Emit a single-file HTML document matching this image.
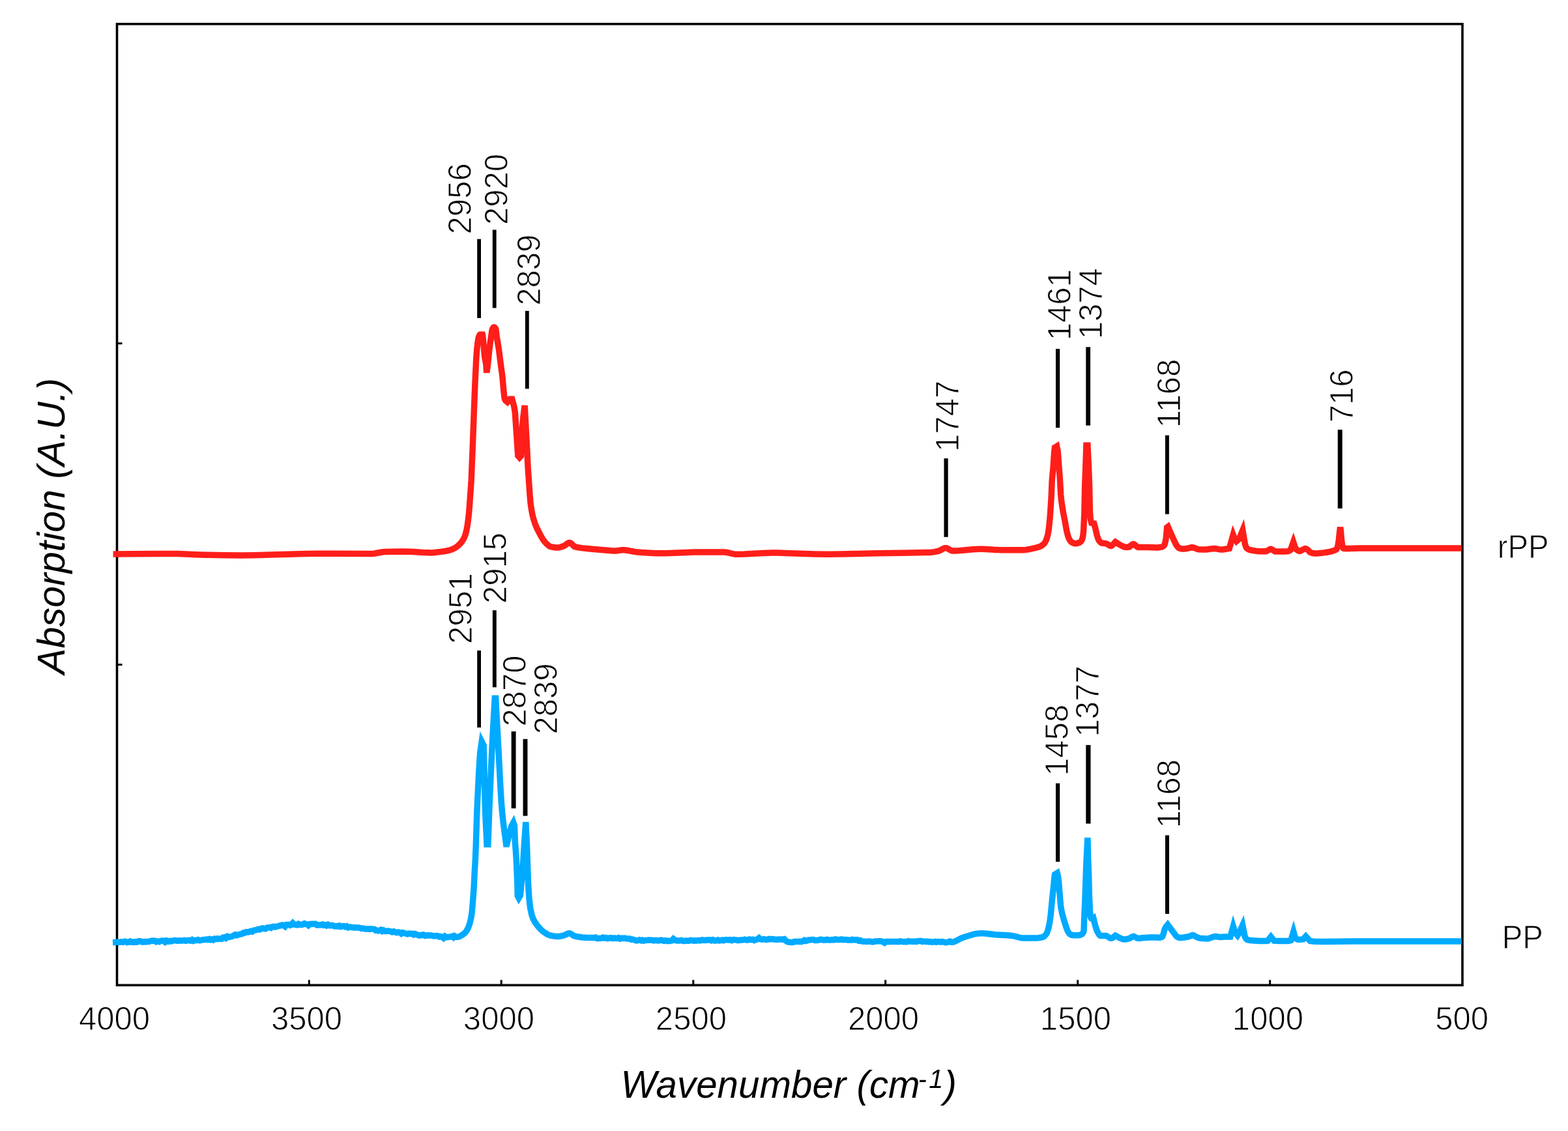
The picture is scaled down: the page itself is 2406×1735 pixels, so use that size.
<!DOCTYPE html>
<html lang="en">
<head>
<meta charset="utf-8">
<title>FTIR absorption spectra of PP and rPP</title>
<style>
html,body{margin:0;padding:0;background:#fff;}
body{width:2406px;height:1735px;overflow:hidden;}
svg{display:block;}
text{font-family:"Liberation Sans",sans-serif;fill:#000;}
.tk{font-size:50.3px;stroke:#fff;stroke-width:1.00px;stroke-linejoin:round;}
.ax{font-size:59.2px;font-style:italic;}
</style>
</head>
<body>
<svg width="2406" height="1735" viewBox="0 0 2406 1735">
<rect x="0" y="0" width="2406" height="1735" fill="#ffffff"/>
<g stroke="#000" stroke-width="3" fill="none">
<line x1="474.3" y1="1511.3" x2="474.3" y2="1503.3"/>
<line x1="769.2" y1="1511.3" x2="769.2" y2="1503.3"/>
<line x1="1063.8" y1="1511.3" x2="1063.8" y2="1503.3"/>
<line x1="1358.7" y1="1511.3" x2="1358.7" y2="1503.3"/>
<line x1="1653.7" y1="1511.3" x2="1653.7" y2="1503.3"/>
<line x1="1948.7" y1="1511.3" x2="1948.7" y2="1503.3"/>
<line x1="179.5" y1="526.8" x2="187.5" y2="526.8"/>
<line x1="179.5" y1="1019.6" x2="187.5" y2="1019.6"/>
</g>
<rect x="179.5" y="36.8" width="2064.5" height="1474.5" fill="none" stroke="#000" stroke-width="3.6"/>
<path d="M173.6,849.9 241.7,849.6 272.8,849.6 284.1,849.9 306.9,850.9 318.2,851.3 346.2,851.7 370.5,851.9 389.4,851.7 431.9,850.4 469.6,849.6 488.5,849.3 512.2,849.2 568.9,849.6 572.0,849.4 575.2,849.0 584.6,847.3 587.8,846.8 590.9,846.6 602.7,846.3 616.9,846.1 628.1,846.2 634.3,846.4 648.8,847.4 657.6,847.8 661.1,847.9 664.5,847.7 669.0,847.3 676.9,846.4 681.4,845.8 684.8,845.2 689.3,844.2 691.3,843.6 693.3,842.9 696.2,841.5 699.1,840.0 700.9,838.7 702.8,837.2 705.5,834.6 707.5,832.4 708.8,830.8 710.1,828.8 711.8,825.8 713.0,823.1 713.8,820.9 715.0,817.0 715.7,814.3 717.4,805.1 718.7,795.0 719.4,788.8 720.1,780.9 722.5,747.3 723.2,736.3 725.1,690.3 728.9,588.8 730.6,553.4 731.3,542.3 732.1,532.8 732.8,526.9 733.8,520.3 734.2,518.4 734.6,517.0 735.7,514.4 736.2,513.6 736.7,513.3 740.4,513.3 740.6,514.0 741.1,518.2 743.5,545.5 744.2,550.4 745.1,554.9 745.7,558.4 746.0,560.8 746.4,567.5 747.4,567.5 748.6,558.7 750.4,540.5 751.3,532.6 752.4,524.4 755.0,506.8 755.6,504.7 756.8,502.8 757.4,502.2 758.0,502.0 758.8,502.3 759.7,503.0 760.5,504.1 760.8,505.2 761.0,506.2 762.3,517.0 764.7,531.3 765.6,537.1 768.5,560.2 770.4,573.7 771.2,581.0 772.4,594.9 773.2,602.9 774.1,610.4 774.4,611.9 775.2,613.5 775.8,614.4 776.5,615.1 778.5,616.8 782.3,612.3 785.8,612.3 788.3,621.6 788.9,624.2 789.8,629.3 790.4,633.8 791.0,642.6 794.8,699.0 797.2,701.8 799.4,699.3 800.3,676.5 801.4,655.7 802.5,643.3 805.1,622.1 808.2,678.5 810.1,717.5 813.1,760.5 813.9,770.0 814.6,775.9 815.9,783.9 817.1,790.3 818.4,795.3 820.0,800.4 821.2,804.0 823.1,808.6 825.6,813.8 830.0,822.2 832.5,826.6 834.4,829.4 836.3,831.7 839.8,835.3 841.6,836.8 843.3,838.0 844.2,838.4 845.1,838.7 847.5,839.2 851.0,839.8 853.3,840.0 855.7,840.1 857.9,839.9 860.2,839.3 864.6,837.8 865.6,837.3 866.7,836.7 870.8,833.6 871.8,833.0 872.9,832.6 873.9,832.5 874.8,832.7 875.7,833.2 876.7,833.9 880.4,837.6 881.3,838.3 882.2,838.7 886.0,839.6 892.3,840.6 905.5,842.0 937.6,844.7 941.4,844.9 945.0,844.9 947.3,844.7 954.0,843.8 957.5,843.7 959.8,843.9 962.2,844.3 973.5,846.4 976.5,846.8 985.0,847.5 993.4,848.0 1001.9,848.4 1010.4,848.7 1019.8,848.7 1027.4,848.5 1053.9,847.4 1065.2,847.1 1111.4,847.1 1114.1,847.3 1116.7,847.7 1123.4,849.4 1126.0,849.9 1128.7,850.3 1130.0,850.3 1142.4,850.0 1171.4,848.5 1183.9,848.1 1193.7,848.1 1205.0,848.4 1250.5,850.0 1267.5,850.3 1290.2,850.1 1346.8,848.7 1397.8,848.1 1420.5,847.6 1426.2,847.4 1429.5,847.2 1433.9,846.6 1439.4,845.5 1441.6,844.8 1448.1,841.4 1449.1,841.0 1450.2,840.8 1451.3,840.7 1452.4,840.8 1453.4,841.1 1454.5,841.6 1458.7,844.1 1459.8,844.6 1460.8,844.9 1461.9,845.0 1465.0,845.0 1471.3,844.7 1493.1,842.8 1502.5,842.3 1507.7,842.3 1512.0,842.5 1526.8,843.4 1531.1,843.6 1535.3,843.7 1571.1,843.7 1574.5,843.4 1578.0,842.8 1589.3,840.3 1592.8,839.4 1596.2,838.2 1598.0,837.3 1598.9,836.7 1600.7,835.3 1601.6,834.4 1602.5,833.4 1603.5,832.0 1604.5,830.2 1605.5,827.9 1606.5,825.1 1607.2,822.7 1608.4,817.3 1609.4,810.8 1610.1,804.6 1611.1,793.7 1612.0,781.1 1613.0,764.9 1613.4,757.4 1614.0,741.7 1614.2,737.4 1614.8,730.6 1616.0,718.0 1617.7,693.2 1618.4,686.6 1621.6,684.6 1622.8,690.5 1623.2,693.0 1623.6,697.6 1624.9,716.1 1626.2,731.5 1627.7,758.6 1628.5,766.8 1629.4,773.8 1631.5,786.3 1634.1,799.7 1636.2,811.5 1637.7,818.2 1638.9,822.7 1640.3,826.2 1642.1,829.5 1643.2,830.9 1643.8,831.4 1645.9,832.6 1648.1,833.5 1649.1,833.7 1650.2,833.8 1651.2,833.7 1653.3,833.3 1656.5,832.2 1657.8,831.3 1658.5,830.7 1659.2,829.8 1660.5,827.5 1661.0,825.8 1661.8,821.7 1662.3,817.3 1662.6,814.2 1662.8,810.2 1663.8,788.1 1664.0,778.0 1664.7,744.4 1665.8,715.6 1666.9,683.3 1668.9,683.3 1670.0,705.8 1671.2,734.0 1671.7,749.5 1672.4,783.8 1672.8,790.1 1673.2,795.0 1673.8,798.4 1674.8,802.1 1678.7,802.9 1681.1,811.6 1683.2,821.0 1684.3,824.4 1685.5,827.6 1686.3,829.2 1687.5,830.7 1688.3,831.5 1689.0,832.2 1689.8,832.7 1690.6,833.0 1692.7,833.3 1695.9,833.6 1697.0,833.8 1698.0,834.1 1699.0,834.6 1702.9,836.9 1703.9,837.3 1704.9,837.4 1705.7,837.2 1706.5,836.7 1707.3,836.0 1710.6,832.1 1711.4,831.3 1716.3,834.5 1718.2,835.7 1723.6,838.3 1725.7,839.1 1726.8,839.3 1729.0,839.4 1732.4,839.1 1733.3,838.7 1735.1,837.0 1737.0,835.6 1738.0,834.9 1739.0,834.6 1740.0,834.9 1742.8,837.0 1744.5,838.6 1745.4,839.2 1746.2,839.4 1760.5,839.4 1775.2,839.9 1778.3,839.7 1782.4,839.1 1783.4,838.8 1784.3,838.3 1785.3,837.6 1786.3,836.6 1787.0,835.4 1787.6,833.3 1788.6,829.0 1789.2,825.1 1789.9,818.8 1790.6,809.2 1792.2,808.0 1799.0,823.6 1803.0,832.2 1804.6,835.4 1805.7,837.1 1807.7,839.6 1808.3,840.2 1809.0,840.6 1811.0,841.4 1812.9,841.9 1813.9,842.0 1814.9,842.1 1817.1,842.0 1820.5,841.5 1825.0,840.6 1828.2,839.8 1829.2,839.7 1830.3,839.8 1831.3,840.1 1834.5,841.2 1836.6,842.1 1837.7,842.5 1838.7,842.7 1844.5,842.9 1850.4,843.0 1852.7,842.8 1859.7,841.7 1863.2,841.5 1865.5,841.7 1871.2,842.9 1873.5,843.1 1876.7,842.9 1886.3,841.3 1892.2,820.5 1894.7,827.0 1897.3,830.4 1901.3,827.0 1906.8,813.5 1910.4,834.5 1912.2,839.7 1912.6,840.3 1913.4,841.2 1915.1,842.4 1916.8,843.2 1919.0,843.9 1921.3,844.3 1928.0,845.4 1931.4,845.7 1942.5,845.7 1943.4,845.5 1944.3,845.1 1948.9,842.4 1949.8,842.2 1950.7,842.4 1951.7,842.9 1956.2,845.8 1957.1,846.0 1971.1,846.0 1975.4,845.7 1976.5,845.6 1977.4,845.3 1980.3,843.5 1984.6,831.4 1988.1,842.0 1992.1,844.9 1993.1,845.3 1994.1,845.5 1995.1,845.3 1996.1,844.9 1998.0,843.7 2001.0,842.2 2001.9,841.8 2002.9,841.6 2003.9,841.8 2004.8,842.3 2006.8,843.6 2007.6,844.3 2010.0,847.0 2010.8,847.5 2014.2,848.5 2016.4,848.9 2017.6,849.0 2019.8,849.0 2023.2,848.8 2031.2,847.9 2035.8,847.2 2039.3,846.6 2042.7,845.9 2044.8,845.3 2048.0,844.2 2048.9,843.8 2049.9,843.3 2050.8,842.5 2051.2,842.0 2051.9,840.3 2052.8,837.2 2053.6,833.2 2054.3,828.4 2055.8,814.0 2056.6,808.8 2057.3,814.0 2058.4,827.4 2059.1,833.3 2059.6,836.6 2059.9,838.0 2060.3,839.2 2060.7,840.3 2061.1,841.0 2061.5,841.3 2062.6,841.5 2064.8,841.6 2068.1,841.6 2086.3,840.9 2242.6,841.1" fill="none" stroke="#ff1e19" stroke-width="9.5" stroke-linejoin="miter" stroke-miterlimit="4" stroke-linecap="butt"/>
<path d="M173.0,1445.7 176.0,1445.6 178.3,1445.3 180.4,1445.1 182.2,1445.4 184.0,1445.3 185.9,1444.8 188.5,1445.4 191.1,1444.3 193.1,1444.4 195.2,1445.7 197.4,1445.3 199.7,1444.1 201.6,1445.2 203.7,1445.0 205.7,1445.4 207.7,1444.9 210.2,1445.1 212.8,1443.8 215.2,1443.8 217.0,1444.8 219.3,1445.2 221.7,1444.6 223.8,1445.0 226.0,1444.6 228.4,1444.5 230.9,1443.7 233.2,1443.1 235.1,1443.3 237.6,1443.3 239.7,1444.7 241.8,1444.0 244.3,1444.6 246.4,1443.5 249.0,1443.0 251.0,1443.2 253.3,1445.1 255.6,1443.2 258.1,1444.4 260.5,1443.4 263.1,1443.8 265.2,1443.1 267.3,1442.7 269.5,1442.5 271.3,1443.3 273.9,1443.3 275.9,1442.8 278.5,1443.2 280.3,1442.9 282.5,1442.5 284.9,1443.3 287.3,1442.8 289.9,1442.4 292.5,1443.1 294.8,1441.7 297.0,1443.3 299.0,1442.5 301.3,1442.5 303.7,1441.6 305.8,1442.7 308.0,1442.5 310.5,1441.9 312.8,1441.6 315.2,1441.5 317.0,1440.9 319.0,1441.6 321.3,1440.5 323.4,1441.7 325.3,1441.0 327.2,1441.9 329.5,1440.1 331.9,1440.6 333.7,1439.8 335.5,1440.4 337.9,1440.1 340.0,1440.3 342.3,1438.1 344.7,1437.7 346.6,1439.1 349.1,1436.6 351.3,1437.5 353.5,1437.1 356.0,1436.6 358.4,1435.2 361.0,1433.8 363.2,1434.8 365.5,1434.0 367.4,1433.3 369.2,1433.0 371.3,1432.6 373.2,1431.1 375.0,1431.2 377.6,1429.8 380.2,1430.2 382.2,1429.5 384.4,1428.5 386.9,1429.2 389.5,1427.1 391.6,1427.0 393.9,1426.5 396.0,1425.4 398.5,1425.9 400.5,1424.5 402.9,1423.9 404.9,1424.7 407.2,1424.9 409.4,1423.3 411.4,1422.9 413.8,1422.6 415.8,1423.4 418.4,1421.5 420.2,1421.3 422.2,1422.0 424.7,1421.4 426.8,1420.8 429.0,1420.2 431.4,1419.6 433.4,1419.0 435.4,1419.9 437.4,1421.3 439.4,1418.6 441.4,1418.4 443.2,1418.5 445.2,1419.4 447.4,1418.1 449.2,1416.2 451.2,1418.3 453.5,1418.6 456.1,1419.0 458.0,1417.4 460.5,1418.3 463.2,1418.7 464.9,1417.9 467.1,1416.7 469.2,1417.6 471.5,1417.9 473.4,1419.6 476.0,1417.6 478.6,1417.2 480.4,1417.4 482.6,1417.2 484.3,1417.4 486.5,1419.1 488.3,1419.0 490.2,1419.0 492.5,1418.9 494.7,1418.1 496.5,1419.3 498.8,1418.7 501.0,1419.9 503.2,1418.5 505.0,1419.7 507.1,1419.5 508.9,1419.8 510.9,1419.8 513.5,1420.9 515.7,1420.8 518.2,1421.2 520.6,1420.2 522.7,1421.6 525.3,1420.7 527.6,1420.7 529.7,1421.8 532.0,1421.0 534.2,1422.9 536.1,1422.2 538.1,1422.3 540.8,1422.7 542.6,1422.8 544.4,1423.1 547.1,1423.1 549.6,1422.8 552.1,1423.4 554.4,1424.4 556.2,1424.0 558.7,1424.4 561.3,1425.2 563.7,1425.0 565.6,1425.0 567.7,1425.4 569.6,1424.8 571.6,1425.1 574.1,1425.4 576.5,1427.3 578.3,1427.1 580.2,1427.9 582.3,1427.7 584.4,1426.5 586.5,1428.4 588.5,1427.1 590.6,1428.4 593.1,1428.4 595.3,1428.0 597.4,1428.4 599.7,1429.0 601.9,1429.8 604.2,1428.9 606.7,1430.1 608.7,1430.7 611.0,1430.0 613.2,1430.4 615.7,1432.2 618.1,1430.7 620.5,1431.6 622.6,1432.2 625.1,1432.8 627.6,1432.1 629.7,1432.2 632.4,1432.2 634.8,1433.8 637.0,1432.6 639.6,1433.8 641.7,1434.5 643.6,1435.1 646.1,1434.8 648.6,1433.9 650.4,1434.1 652.2,1435.5 654.5,1435.3 656.9,1434.7 659.5,1435.1 662.0,1435.0 664.6,1435.8 667.1,1435.9 669.4,1435.6 671.7,1435.7 674.2,1437.0 676.2,1436.7 678.4,1437.3 680.5,1439.0 682.7,1436.5 684.7,1437.8 686.7,1437.7 689.3,1437.2 691.2,1437.0 693.8,1436.4 695.8,1437.9 697.6,1436.0 700.1,1437.4 702.7,1437.2 704.7,1436.8 706.5,1435.8 708.5,1434.6 710.3,1433.5 712.8,1431.7 714.3,1430.0 715.8,1428.0 716.8,1426.3 717.9,1424.3 718.9,1422.0 719.7,1419.9 720.7,1416.9 722.5,1409.5 723.5,1404.2 724.4,1396.8 725.8,1379.7 727.0,1363.1 727.5,1353.7 728.2,1338.2 729.3,1320.1 730.2,1298.5 731.9,1244.9 732.8,1224.6 734.6,1188.3 736.6,1155.8 739.2,1137.6 742.2,1143.6 743.2,1191.1 744.3,1234.3 745.2,1258.2 747.0,1295.3 748.9,1295.3 750.9,1240.0 753.5,1179.9 755.8,1132.1 759.2,1071.3 760.6,1071.3 765.3,1156.7 767.8,1206.0 769.3,1230.5 770.5,1245.2 771.9,1258.7 772.8,1266.5 776.6,1294.9 777.7,1294.9 784.6,1267.8 787.8,1261.9 789.4,1266.4 790.4,1291.5 792.1,1315.9 793.0,1335.0 793.9,1357.4 794.3,1374.5 796.0,1377.6 798.4,1373.5 801.0,1345.6 802.4,1328.0 804.8,1289.0 806.8,1261.0 808.6,1299.0 810.2,1347.7 810.5,1354.6 811.0,1364.1 812.0,1378.2 813.0,1388.3 814.0,1394.8 814.7,1398.0 815.6,1402.0 816.5,1405.3 817.8,1408.7 819.0,1411.3 820.8,1414.6 823.3,1418.1 826.5,1422.1 828.9,1424.8 831.4,1427.3 833.8,1429.3 836.7,1431.3 839.9,1433.2 842.0,1434.2 844.1,1434.9 845.1,1435.2 848.6,1435.9 852.2,1436.4 854.5,1436.6 856.8,1436.6 859.0,1436.3 862.4,1435.7 864.6,1435.2 865.7,1434.9 871.2,1432.2 872.3,1431.8 873.4,1431.7 874.4,1431.8 875.4,1432.2 876.3,1432.7 880.2,1435.3 881.2,1435.8 882.2,1436.1 888.5,1437.3 893.5,1438.0 898.5,1438.3 900.0,1438.4 902.1,1438.4 904.8,1438.5 907.2,1438.5 909.3,1438.5 911.3,1438.6 913.9,1438.1 915.9,1439.4 918.5,1439.4 920.7,1439.5 922.9,1439.2 925.1,1438.2 927.9,1439.1 929.8,1438.6 932.6,1439.7 934.8,1439.0 937.6,1438.7 940.3,1439.6 942.8,1439.0 945.0,1439.6 947.1,1439.6 949.1,1438.7 951.3,1440.0 954.2,1439.1 956.2,1439.5 958.6,1439.1 961.1,1439.8 963.8,1440.1 966.6,1440.1 968.8,1441.3 971.0,1441.1 973.8,1442.1 976.1,1443.0 978.2,1442.8 981.1,1441.8 983.8,1442.9 985.7,1442.2 987.8,1443.2 990.6,1442.4 993.0,1442.3 995.8,1442.1 998.3,1442.3 1000.4,1442.3 1002.9,1442.9 1004.8,1442.5 1006.9,1442.5 1009.6,1442.9 1011.6,1442.7 1014.2,1442.2 1016.7,1442.7 1019.0,1443.5 1021.4,1442.7 1024.2,1443.6 1026.3,1443.2 1028.2,1443.4 1030.9,1442.8 1033.3,1440.3 1036.1,1442.3 1038.3,1442.9 1040.5,1442.9 1042.6,1442.9 1045.4,1442.4 1048.2,1443.5 1050.2,1443.5 1053.0,1443.0 1055.1,1443.2 1057.4,1443.3 1059.5,1442.4 1061.9,1442.6 1064.1,1443.1 1066.0,1442.8 1068.0,1443.2 1070.5,1442.7 1072.7,1442.5 1075.0,1442.9 1077.3,1441.9 1079.7,1442.2 1082.4,1442.5 1084.8,1442.0 1087.1,1441.9 1089.5,1441.8 1091.5,1442.8 1093.9,1441.8 1096.2,1443.1 1099.0,1443.1 1101.7,1441.9 1104.1,1443.0 1106.1,1442.7 1108.1,1442.1 1110.2,1442.8 1112.9,1441.8 1115.7,1441.8 1118.1,1441.9 1120.2,1441.7 1122.8,1442.7 1125.4,1441.5 1128.0,1441.8 1130.4,1442.1 1132.4,1442.6 1134.7,1442.3 1137.6,1442.0 1140.3,1441.8 1142.9,1441.2 1145.1,1442.0 1147.5,1442.0 1149.5,1441.0 1152.0,1441.6 1154.8,1441.1 1157.3,1442.5 1159.7,1441.6 1161.9,1441.0 1164.7,1438.8 1167.0,1440.8 1169.6,1441.1 1172.4,1440.7 1175.2,1441.4 1177.7,1441.3 1179.8,1440.5 1181.7,1440.8 1184.5,1440.6 1187.1,1440.7 1189.5,1441.3 1191.8,1441.3 1193.8,1441.3 1196.4,1441.0 1198.7,1441.0 1200.7,1441.2 1203.5,1440.7 1205.6,1443.0 1208.4,1444.7 1210.9,1445.2 1213.7,1445.6 1216.5,1445.5 1219.0,1444.5 1221.7,1444.6 1224.5,1444.4 1227.0,1444.3 1229.8,1444.6 1232.2,1443.4 1234.1,1442.4 1236.3,1443.4 1238.6,1442.9 1240.7,1442.0 1243.2,1442.0 1245.8,1441.6 1248.3,1441.5 1250.3,1442.6 1252.4,1442.6 1255.0,1442.4 1257.6,1441.6 1259.7,1441.1 1262.5,1442.0 1265.1,1441.8 1267.2,1442.0 1269.4,1441.3 1271.6,1442.1 1274.3,1442.1 1276.8,1441.5 1279.4,1441.9 1281.8,1440.9 1283.8,1441.6 1286.5,1441.6 1288.8,1441.5 1291.5,1440.9 1293.5,1441.8 1296.3,1441.6 1298.7,1441.6 1301.5,1442.1 1303.5,1442.1 1305.9,1442.2 1307.9,1441.3 1310.8,1442.0 1313.1,1441.7 1315.3,1441.7 1317.4,1443.1 1320.2,1442.6 1322.8,1444.0 1325.3,1444.2 1327.6,1444.3 1330.0,1444.5 1332.1,1444.0 1334.7,1444.2 1337.4,1444.7 1340.0,1444.9 1342.5,1444.0 1345.3,1443.9 1348.2,1443.7 1350.3,1443.7 1352.5,1443.9 1354.5,1444.8 1357.3,1446.3 1359.7,1444.4 1361.7,1444.4 1364.4,1444.8 1366.8,1444.6 1369.0,1444.5 1371.7,1444.5 1374.2,1444.4 1376.4,1444.4 1378.8,1444.6 1381.3,1443.9 1383.6,1444.4 1386.2,1444.8 1388.8,1444.6 1391.2,1444.9 1393.6,1443.8 1396.4,1444.3 1398.9,1444.3 1401.3,1444.4 1403.7,1444.1 1405.8,1444.5 1408.5,1443.7 1410.8,1443.6 1413.1,1443.6 1415.4,1444.6 1417.6,1444.0 1420.4,1444.4 1423.1,1444.3 1425.1,1444.9 1427.6,1444.5 1429.8,1445.2 1432.3,1445.1 1434.7,1444.4 1436.7,1445.2 1439.5,1444.5 1441.6,1444.7 1443.5,1445.2 1445.7,1444.7 1448.0,1445.2 1450.3,1445.7 1452.3,1445.7 1454.9,1445.0 1457.5,1444.2 1459.6,1445.3 1461.8,1445.2 1462.1,1445.2 1465.0,1444.3 1467.8,1443.0 1474.9,1439.3 1477.7,1438.1 1488.6,1434.7 1494.2,1433.2 1498.0,1432.4 1501.8,1431.9 1505.6,1431.7 1508.6,1431.8 1511.6,1432.0 1526.5,1433.7 1545.4,1434.8 1552.9,1435.4 1556.6,1436.1 1565.1,1438.4 1567.6,1438.8 1568.8,1439.0 1589.8,1439.0 1593.3,1438.8 1596.7,1438.3 1600.2,1437.4 1601.0,1437.1 1601.9,1436.6 1603.6,1435.0 1605.3,1433.0 1605.7,1432.4 1606.5,1430.8 1607.7,1427.5 1609.1,1422.7 1609.7,1420.0 1610.6,1415.5 1611.3,1410.7 1612.0,1405.5 1613.1,1394.7 1614.6,1378.8 1616.2,1364.0 1617.6,1348.4 1618.5,1341.5 1622.2,1339.2 1623.6,1345.0 1624.3,1350.5 1625.0,1358.2 1627.4,1387.5 1627.8,1390.8 1628.4,1394.9 1629.7,1401.0 1632.5,1411.1 1636.1,1422.7 1637.5,1426.5 1639.1,1429.8 1639.6,1430.6 1640.9,1432.2 1641.5,1432.8 1642.2,1433.3 1643.3,1433.9 1644.4,1434.4 1645.5,1434.6 1648.4,1434.8 1650.4,1434.8 1654.5,1434.7 1656.5,1434.5 1658.6,1433.9 1659.4,1433.5 1660.1,1433.0 1661.4,1431.7 1662.0,1430.9 1662.7,1429.2 1663.1,1426.8 1663.6,1410.1 1664.8,1383.8 1666.7,1328.1 1667.4,1312.8 1668.9,1285.1 1669.4,1309.7 1670.6,1341.5 1671.3,1371.5 1672.0,1387.9 1672.5,1397.1 1672.9,1402.0 1673.2,1404.5 1673.7,1407.1 1674.2,1408.6 1674.8,1409.3 1675.4,1409.6 1676.0,1409.5 1676.6,1409.2 1677.8,1408.4 1680.3,1418.7 1681.7,1423.3 1682.7,1426.5 1683.8,1429.0 1685.9,1432.8 1686.5,1433.8 1687.2,1434.6 1687.9,1435.2 1688.6,1435.4 1697.0,1435.6 1698.0,1435.8 1699.0,1436.3 1703.1,1438.9 1704.1,1439.3 1705.1,1439.5 1706.0,1439.3 1706.9,1438.9 1707.8,1438.3 1711.4,1435.2 1716.5,1438.0 1720.6,1439.8 1722.6,1440.6 1723.7,1440.8 1725.7,1441.1 1726.8,1441.1 1729.0,1440.7 1732.4,1439.8 1733.5,1439.4 1734.4,1438.9 1736.3,1437.6 1737.3,1437.1 1738.2,1436.7 1739.2,1436.5 1740.2,1436.8 1742.2,1437.8 1745.1,1439.0 1746.0,1439.3 1747.0,1439.4 1749.2,1439.3 1753.5,1438.7 1764.9,1438.0 1770.5,1437.9 1777.9,1438.3 1780.0,1438.2 1781.1,1438.0 1782.2,1437.6 1783.2,1437.0 1783.6,1436.6 1784.0,1435.8 1785.3,1432.5 1786.6,1427.0 1787.4,1425.0 1788.5,1422.5 1791.8,1418.5 1803.0,1433.5 1805.2,1436.4 1806.0,1437.0 1808.2,1438.1 1809.4,1438.5 1810.5,1438.6 1813.8,1438.4 1822.8,1437.0 1825.0,1436.5 1828.1,1435.1 1829.2,1434.7 1830.2,1434.6 1831.2,1434.8 1832.1,1435.2 1835.0,1436.9 1836.0,1437.4 1838.9,1438.6 1839.8,1438.9 1840.8,1439.1 1844.4,1439.5 1849.1,1439.8 1852.7,1439.9 1853.8,1439.8 1854.9,1439.6 1857.0,1438.9 1861.4,1437.2 1863.5,1436.7 1864.6,1436.6 1866.8,1436.7 1871.3,1437.4 1873.5,1437.5 1880.9,1437.1 1887.9,1437.1 1892.3,1421.0 1895.3,1431.0 1898.9,1435.2 1901.3,1431.5 1906.7,1419.4 1910.2,1437.0 1912.0,1440.0 1912.6,1440.8 1913.2,1441.3 1914.2,1441.7 1916.1,1442.2 1918.0,1442.5 1920.3,1442.7 1932.5,1443.5 1943.0,1443.5 1945.2,1443.2 1950.1,1436.9 1955.0,1443.2 1963.4,1443.5 1977.0,1443.5 1978.0,1443.4 1980.8,1442.5 1984.8,1429.1 1987.6,1439.5 1991.9,1441.5 1999.5,1441.0 2003.7,1436.3 2010.3,1443.6 2014.8,1444.1 2017.0,1444.2 2033.9,1444.4 2076.2,1444.0 2242.6,1444.0" fill="none" stroke="#00aaff" stroke-width="9.5" stroke-linejoin="miter" stroke-miterlimit="4" stroke-linecap="butt"/>
<g fill="#000">
<rect x="732.20" y="366.7" width="5.8" height="121.2"/>
<rect x="755.80" y="352.5" width="5.8" height="120.0"/>
<rect x="805.90" y="476.9" width="5.8" height="119.5"/>
<rect x="1448.50" y="703.2" width="6.2" height="120.6"/>
<rect x="1620.00" y="535.2" width="6.2" height="121.0"/>
<rect x="1666.30" y="532.4" width="6.8" height="120.3"/>
<rect x="1787.95" y="667.8" width="5.9" height="120.9"/>
<rect x="2052.70" y="659.2" width="7" height="120.8"/>
<rect x="732.20" y="997.9" width="5.8" height="118.1"/>
<rect x="755.85" y="936.2" width="5.9" height="118.1"/>
<rect x="784.65" y="1122.0" width="6.9" height="118.1"/>
<rect x="802.55" y="1133.7" width="6.9" height="117.9"/>
<rect x="1620.00" y="1201.6" width="6.2" height="120.4"/>
<rect x="1666.30" y="1142.9" width="7.2" height="120.6"/>
<rect x="1788.00" y="1281.4" width="6" height="120.5"/>
</g>
<g class="tk">
<text id="l0" transform="translate(722.8,359.4) rotate(-90) scale(0.975,1)">2956</text>
<text id="l1" transform="translate(779.0,345.0) rotate(-90) scale(0.975,1)">2920</text>
<text id="l2" transform="translate(828.9,468.8) rotate(-90) scale(0.975,1)">2839</text>
<text id="l3" transform="translate(1471.3,692.9) rotate(-90) scale(0.975,1)">1747</text>
<text id="l4" transform="translate(1642.6,522.3) rotate(-90) scale(0.975,1)">1461</text>
<text id="l5" transform="translate(1691.2,520.3) rotate(-90) scale(0.975,1)">1374</text>
<text id="l6" transform="translate(1811.2,656.2) rotate(-90) scale(0.975,1)">1168</text>
<text id="l7" transform="translate(2075.5,648.2) rotate(-90) scale(0.975,1)">716</text>
<text id="l8" transform="translate(723.5,988.1) rotate(-90) scale(0.975,1)">2951</text>
<text id="l9" transform="translate(777.3,926.0) rotate(-90) scale(0.975,1)">2915</text>
<text id="l10" transform="translate(806.9,1114.5) rotate(-90) scale(0.975,1)">2870</text>
<text id="l11" transform="translate(854.5,1126.5) rotate(-90) scale(0.975,1)">2839</text>
<text id="l12" transform="translate(1639.2,1189.9) rotate(-90) scale(0.975,1)">1458</text>
<text id="l13" transform="translate(1686.4,1130.4) rotate(-90) scale(0.975,1)">1377</text>
<text id="l14" transform="translate(1811.4,1270.3) rotate(-90) scale(0.975,1)">1168</text>
</g>
<g class="tk" text-anchor="middle">
<text id="t0" transform="translate(175.6,1579.8) scale(0.975,1)">4000</text>
<text id="t1" transform="translate(470.5,1579.8) scale(0.975,1)">3500</text>
<text id="t2" transform="translate(765.4,1579.8) scale(0.975,1)">3000</text>
<text id="t3" transform="translate(1060.4,1579.8) scale(0.975,1)">2500</text>
<text id="t4" transform="translate(1355.5,1579.8) scale(0.975,1)">2000</text>
<text id="t5" transform="translate(1650.4,1579.8) scale(0.975,1)">1500</text>
<text id="t6" transform="translate(1945.4,1579.8) scale(0.975,1)">1000</text>
<text id="t7" transform="translate(2243.1,1579.8) scale(0.975,1)">500</text>
</g>
<text id="rpp" class="tk" transform="translate(2297.8,855.6) scale(0.94,1)">rPP</text>
<text id="pp" class="tk" transform="translate(2304.8,1454.7) scale(0.94,1)">PP</text>
<text id="xt" class="ax" transform="translate(952.6,1684) scale(0.985,1)">Wavenumber (cm<tspan font-size="40" dy="-15.4" dx="-3" letter-spacing="3.5">-1</tspan><tspan dy="15.4" dx="-2">)</tspan></text>
<text id="yt" class="ax" transform="translate(98.6,807) rotate(-90)" text-anchor="middle">Absorption (A.U.)</text>
</svg>
</body>
</html>
